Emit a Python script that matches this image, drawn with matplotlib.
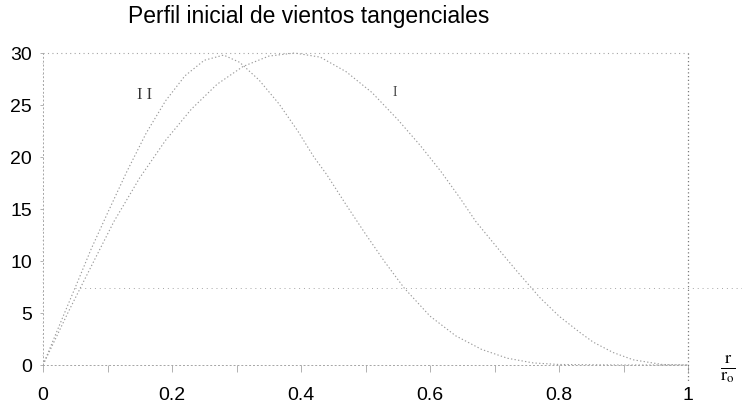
import matplotlib
matplotlib.use("Agg")
import matplotlib.pyplot as plt
import numpy as np

# radial position r/r0 and tangential wind for the two initial profiles
r_II = [0, 0.03, 0.055, 0.075, 0.1, 0.13, 0.16, 0.19, 0.22, 0.25, 0.28, 0.305,
        0.335, 0.366, 0.395, 0.42, 0.44, 0.47, 0.5, 0.53, 0.56, 0.6, 0.64,
        0.68, 0.72, 0.76, 0.8, 0.9, 1.0]
v_II = [0, 4.5, 8.2, 11.2, 14.6, 18.6, 22.3, 25.4, 27.8, 29.3, 29.8, 29.1,
        27.4, 25.1, 22.5, 20.0, 18.3, 15.4, 12.6, 9.9, 7.4, 4.7, 2.8,
        1.5, 0.65, 0.2, 0.05, 0, 0]

r_I = [0, 0.04, 0.083, 0.11, 0.15, 0.19, 0.23, 0.27, 0.31, 0.35, 0.39, 0.43,
       0.47, 0.51, 0.55, 0.585, 0.617, 0.646, 0.671, 0.708, 0.735, 0.77, 0.8,
       0.833, 0.853, 0.884, 0.915, 0.96, 1.0]
v_I = [0, 5.2, 10.5, 13.8, 18.0, 21.6, 24.6, 27.0, 28.7, 29.7, 30.0, 29.6,
       28.2, 26.2, 23.6, 21.1, 18.6, 16.1, 13.8, 11.0, 9.0, 6.5, 4.7,
       3.1, 2.2, 1.2, 0.5, 0.05, 0]

x_ticks = [0, 0.2, 0.4, 0.6, 0.8, 1]
x_labels = ["0", "0.2", "0.4", "0.6", "0.8", "1"]
y_ticks = [0, 5, 10, 15, 20, 25, 30]

plt.rcParams["font.family"] = ["Liberation Sans", "DejaVu Sans"]
plt.rcParams["mathtext.fontset"] = "stix"

W, H = 742, 407
fig = plt.figure(figsize=(W / 100, H / 100), dpi=100)

# axes placed so that r=0 sits at x=43px, r=1 at 688px, v=0 at 365px, v=30 at 53px
xmin, xmax = 0, 1.0837
ymin, ymax = -1.5, 31
px_x, px_y = 645, 10.4
ax = fig.add_axes([43 / W, (H - 365 - (-ymin) * px_y) / H,
                   (xmax - xmin) * px_x / W, (ymax - ymin) * px_y / H])
ax.set_xlim(xmin, xmax)
ax.set_ylim(ymin, ymax)

faint = "#a5a5a5"
curve = "#9a9a9a"
ax.plot(r_II, v_II, color=curve, lw=0.8, ls=(0, (1.2, 2)))
ax.plot(r_I, v_I, color=curve, lw=0.8, ls=(0, (1.2, 2)))

# faint reference lines
ax.plot([0, 1], [30, 30], color=faint, lw=0.8, ls=(0, (1, 3)))
ax.plot([1, 1], [30, -1.5], color="#7a7a7a", lw=0.9, ls=(0, (1, 2)))
ax.plot([0.05, 1.09], [7.4, 7.4], color=faint, lw=0.7, ls=(0, (1, 4)), clip_on=False)

for s in ["top", "right"]:
    ax.spines[s].set_visible(False)
ax.spines["left"].set_position(("data", 0))
ax.spines["bottom"].set_position(("data", 0))
ax.spines["left"].set_bounds(0, 30)
ax.spines["bottom"].set_bounds(0, 1)
for s in ["left", "bottom"]:
    ax.spines[s].set_color(faint)
    ax.spines[s].set_linewidth(0.7)
    ax.spines[s].set_linestyle((0, (1, 3)))

ax.set_xticks(x_ticks)
ax.set_xticklabels(x_labels)
ax.set_xticks(np.arange(0.1, 1.0, 0.2), minor=True)
ax.set_yticks(y_ticks)
ax.set_yticks(np.arange(1, 30, 1), minor=True)
ax.tick_params(axis="x", which="both", direction="out", length=5, width=0.6,
               color=faint, pad=11, labelsize=14)
ax.tick_params(axis="y", which="major", direction="out", length=2, width=0.6,
               color=faint, pad=6, labelsize=14)
ax.tick_params(axis="y", which="minor", direction="out", length=1, width=0.5,
               color="#c8c8c8")

ax.text(0.158, 26, "I I", family="Liberation Serif", fontsize=12,
        color="#333333", ha="center", va="center")
ax.text(0.546, 26.2, "I", family="Liberation Serif", fontsize=10,
        color="#444444", ha="center", va="center")

fig.text(128 / W, 1 - 17 / H, "Perfil inicial de vientos tangenciales",
         fontsize=16.5, ha="left", va="center")
fig.text(728 / W, 1 - 369 / H, r"$\frac{\mathrm{r}}{\mathrm{r_o}}$",
         fontsize=19, ha="center", va="center")

fig.savefig("out.png", dpi=100)
